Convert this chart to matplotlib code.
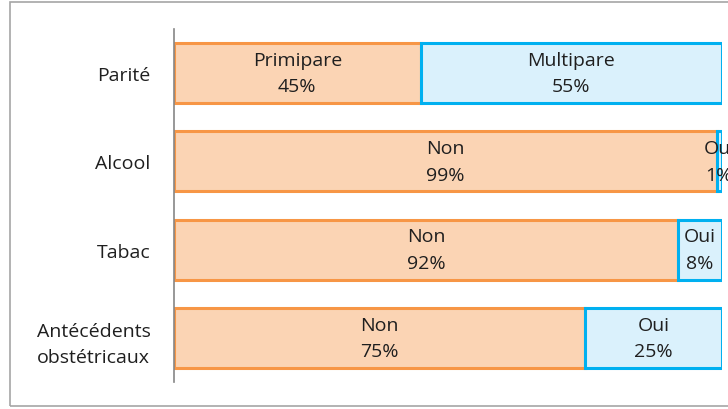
import matplotlib.pyplot as plt
from matplotlib.patches import Rectangle

categories = ["Parité", "Alcool", "Tabac", "Antécédents\nobstétricaux"]
first_labels = ["Primipare", "Non", "Non", "Non"]
second_labels = ["Multipare", "Oui", "Oui", "Oui"]
first_values = [45, 99, 92, 75]
second_values = [55, 1, 8, 25]

plt.rcParams['font.family'] = ['Open Sans', 'DejaVu Sans']

fig = plt.figure(figsize=(7.28, 4.10), dpi=100)
# cadre gris autour du graphique
fig.patches.append(Rectangle((10 / 728, 3 / 410), 1.0, 404 / 410, transform=fig.transFigure,
                             fill=False, edgecolor='#a6a6a6', linewidth=1.2))

ax = fig.add_axes([174 / 728, 1 - 383 / 410, 548 / 728, 353 / 410])

pos = list(range(len(categories)))
ax.barh(pos, first_values, height=0.68, color='#fbd4b4', edgecolor='#f79646', linewidth=2.2)
ax.barh(pos, second_values, left=first_values, height=0.68, color='#daf1fc',
        edgecolor='#00b0f0', linewidth=2.2)

txt = dict(ha='center', va='center', fontsize=14, color='#1f1f1f', linespacing=1.6)
for i in pos:
    a, b = first_values[i], second_values[i]
    ax.text(a / 2, i, f"{first_labels[i]}\n{a}%", **txt)
    ax.text(a + b / 2, i, f"{second_labels[i]}\n{b}%", clip_on=False, **txt)

ax.set_xlim(0, 100)
ax.set_ylim(3.5, -0.5)
ax.set_yticks(pos)
ax.set_yticklabels(categories, fontsize=14, color='#1f1f1f', linespacing=1.6,
                   multialignment='center')
ax.tick_params(axis='y', length=0, pad=17)
ax.set_xticks([])
for s in ['top', 'right', 'bottom']:
    ax.spines[s].set_visible(False)
ax.spines['left'].set_color('#868686')
ax.spines['left'].set_linewidth(1.2)

fig.savefig('out.png', dpi=100)
